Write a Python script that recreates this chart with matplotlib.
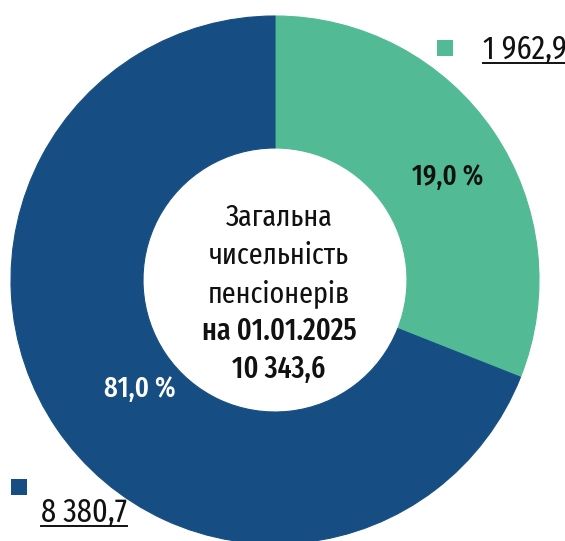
import matplotlib
matplotlib.use("Agg")
import matplotlib.pyplot as plt
from matplotlib.patches import Rectangle
from matplotlib.lines import Line2D

# ---- data ----
categories = ["група 1", "група 2"]
values = [1962.9, 8380.7]                 # thousand persons
value_labels = ["1 962,9", "8 380,7"]
pct_labels = ["19,0 %", "81,0 %"]
drawn_shares = [31.0, 69.0]               # slice sizes as drawn in the reference
center_lines = ["Загальна", "чисельність", "пенсіонерів", "на 01.01.2025", "10 343,6"]
colors = ["#52BA95", "#164E83"]

FONT = ["Fira Sans Extra Condensed", "Roboto Condensed", "DejaVu Sans"]
plt.rcParams["font.family"] = FONT

W, H = 565, 541
fig = plt.figure(figsize=(W / 100, H / 100), dpi=100)
ax = fig.add_axes([0, 0, 1, 1])


def Y(y):
    return H - y


cx, cy, R = 275, 280, 264
wedges, _ = ax.pie(drawn_shares, startangle=90, counterclock=False, colors=colors,
                   radius=R, center=(cx, Y(cy)),
                   wedgeprops=dict(width=R * 0.5, linewidth=0.8))
for w, c in zip(wedges, colors):
    w.set_edgecolor(c)
ax.set_xlim(0, W)
ax.set_ylim(0, H)
ax.set_aspect("equal")
ax.axis("off")

fig.canvas.draw()
rend = fig.canvas.get_renderer()


def fit_size(strings, widths, weight, base=20.0):
    ratios = []
    for s, wd, wt in zip(strings, widths, weight):
        t = ax.text(0, 0, s, fontsize=base, fontweight=wt)
        ratios.append(wd / t.get_window_extent(rend).width)
        t.remove()
    return base * sum(ratios) / len(ratios)


# centre text
baselines = [226, 264, 302, 340, 378]
weights = [400, 400, 400, 500, 500]
c_size = fit_size([center_lines[0], center_lines[2], center_lines[3], center_lines[4]],
                  [104, 139, 157, 97], [400, 400, 500, 500])
for line, b, w in zip(center_lines, baselines, weights):
    ax.text(279, Y(b), line, ha="center", va="baseline", fontsize=c_size,
            fontweight=w, color="#111111")

# percentage labels
p_size = fit_size(pct_labels, [70, 73], [500, 500])
ax.text(448, Y(185), pct_labels[0], ha="center", va="baseline", fontsize=p_size,
        fontweight=500, color="#111111")
ax.text(140, Y(397), pct_labels[1], ha="center", va="baseline", fontsize=p_size,
        fontweight=500, color="white")

# legend-like value labels with squares
v_size = fit_size([value_labels[1]], [86], [400])
sq = [(437, 40), (11, 479)]
txt_pos = [(483, 59), (41, 522)]
texts = []
for (sx, sy), (tx, ty), c, lab in zip(sq, txt_pos, colors, value_labels):
    ax.add_patch(Rectangle((sx, Y(sy + 16)), 16, 16, facecolor=c, edgecolor="none"))
    t = ax.text(tx, Y(ty), lab, ha="left", va="baseline", fontsize=v_size,
                fontweight=400, color="#111111")
    texts.append((t, ty))

fig.canvas.draw()
for t, ty in texts:
    bb = t.get_window_extent(rend)
    x0, x1 = bb.x0, min(bb.x1, W)
    ax.add_line(Line2D([x0, x1], [Y(ty + 3.5), Y(ty + 3.5)], color="#111111",
                       linewidth=1.4))

fig.savefig("out.png", dpi=100)
